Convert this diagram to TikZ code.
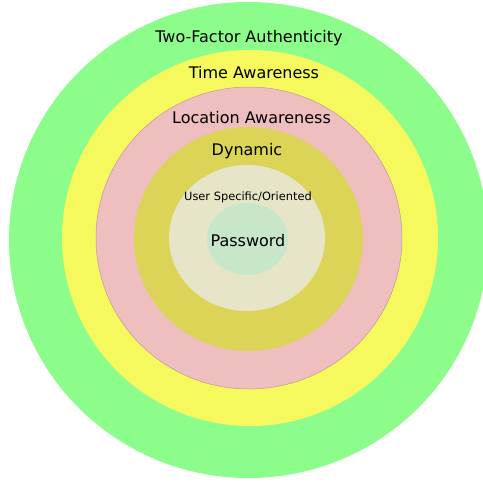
\documentclass[tikz,border=0pt]{standalone}
\usepackage{fontspec}
\setmainfont{DejaVu Sans}
\definecolor{cgreen}{RGB}{140,252,138}
\definecolor{cyellow}{RGB}{246,249,94}
\definecolor{cpink}{RGB}{239,190,190}
\definecolor{colive}{RGB}{219,212,86}
\definecolor{ccream}{RGB}{230,229,200}
\definecolor{cmint}{RGB}{200,230,202}
\tikzset{
  ring/.style={draw=none},
  lbl/.style={inner sep=0pt, font=\fontsize{16}{19}\selectfont, text=black},
  small/.style={inner sep=0pt, font=\fontsize{11.4}{13}\selectfont, text=black}
}
\begin{document}
\begin{tikzpicture}[x=1pt,y=-1pt]
\useasboundingbox (0,0) rectangle (483,483);
\fill[white] (0,0) rectangle (483,483);
\begin{scope}
\clip (0,0) rectangle (483,483);
\fill[cgreen] (248.5,240) ellipse [x radius=239.5, y radius=238];
\end{scope}
\fill[cyellow] (250,238) ellipse [x radius=188, y radius=188];
\filldraw[fill=cpink, draw=black!20!cpink, line width=0.5pt] (249,238) ellipse [x radius=153, y radius=151];
\fill[colive] (248.5,239) ellipse [x radius=114.5, y radius=112];
\fill[ccream] (247,238) ellipse [x radius=78, y radius=73];
\fill[cmint] (247.5,239) ellipse [x radius=40.5, y radius=36];
\node[lbl] (tf) at (249,38) {Two-Factor Authenticity};
\node[lbl] (ta) at (254,73) {Time Awareness};
\node[lbl] (la) at (251.5,118) {Location Awareness};
\node[lbl] (dy) at (247,151) {Dynamic};
\node[small] (us) at (248,197) {User Specific/Oriented};
\node[lbl] (pw) at (248,241) {Password};
\end{tikzpicture}
\end{document}
